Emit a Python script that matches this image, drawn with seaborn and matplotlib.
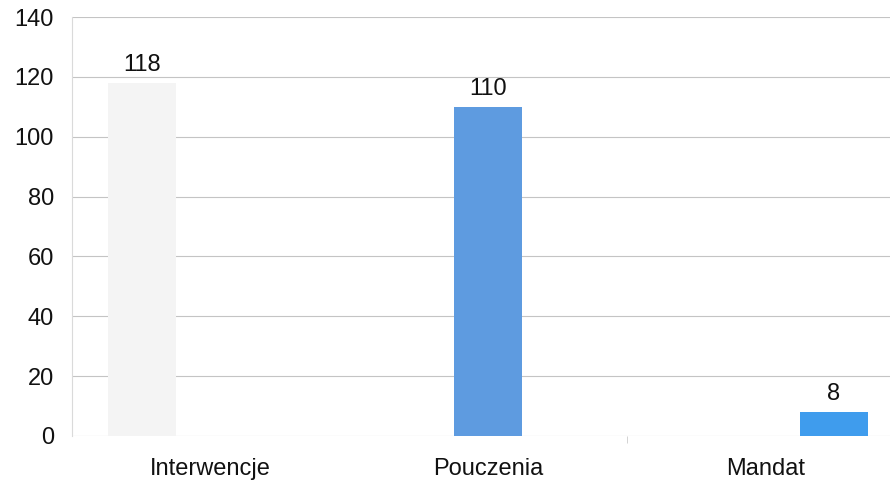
import matplotlib
matplotlib.use("Agg")
import matplotlib.pyplot as plt
import seaborn as sns
import pandas as pd

categories = ["Interwencje", "Pouczenia", "Mandat"]
values = [118, 110, 8]
bar_colors = ["#f4f4f4", "#5e9be0", "#3f9ced"]
y_ticks = [0, 20, 40, 60, 80, 100, 120, 140]

df = pd.DataFrame({"kategoria": categories, "liczba": values, "seria": categories})

sns.set_theme(style="white")
plt.rcParams["font.family"] = ["Liberation Sans", "DejaVu Sans"]

fig = plt.figure(figsize=(8.9, 4.86), dpi=100)
ax = fig.add_axes([0.0809, 0.103, 0.935, 0.862])

sns.barplot(data=df, x="kategoria", y="liczba", hue="seria", order=categories,
            hue_order=categories, palette=bar_colors, dodge=True, width=0.74,
            saturation=1, legend=False, ax=ax, zorder=3, linewidth=0)

for cont, v in zip(ax.containers, values):
    ax.bar_label(cont, labels=[str(v)], padding=5, fontsize=17, color="#111111")

ax.set_ylim(0, 140)
ax.set_yticks(y_ticks)
ax.set_xlim(-0.5, 2.5)
ax.set_xticks([1.5], minor=True)
ax.yaxis.grid(True, color="#c4c4c4", linewidth=0.8, zorder=0)
ax.set_axisbelow(True)
for s in ["top", "right", "bottom"]:
    ax.spines[s].set_visible(False)
ax.spines["left"].set_color("#dadada")
ax.spines["left"].set_linewidth(0.8)
ax.tick_params(axis="y", labelsize=17, length=9, width=0.8, color="#c4c4c4",
               pad=4, labelcolor="#111111")
ax.tick_params(axis="x", which="major", labelsize=17, length=0, pad=16, labelcolor="#111111")
ax.tick_params(axis="x", which="minor", length=5, width=0.6, color="#cccccc", bottom=True)
ax.set_xlabel("")
ax.set_ylabel("")

fig.savefig("out.png", dpi=100, facecolor="white")
